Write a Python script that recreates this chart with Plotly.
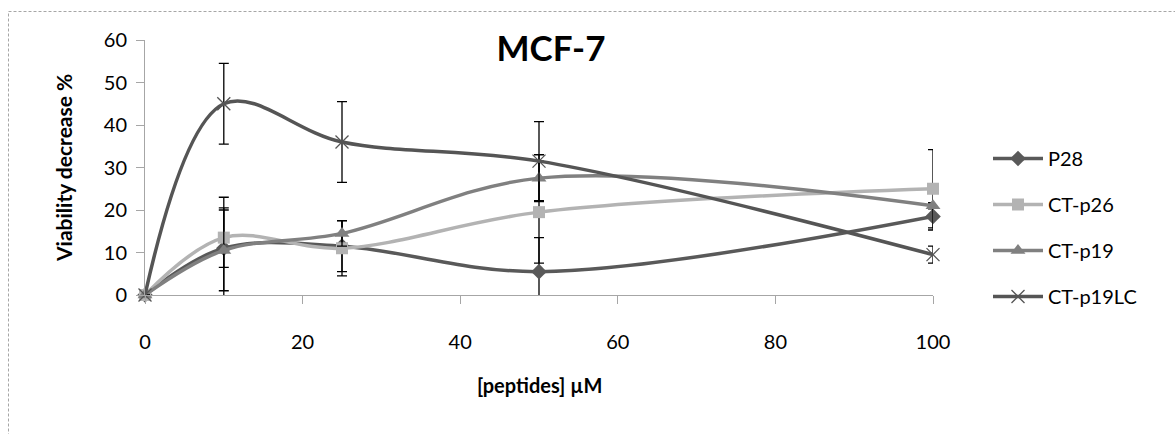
import plotly.graph_objects as go

# ---- data ----
concentrations = [0, 10, 25, 50, 100]
series_names = ["P28", "CT-p26", "CT-p19", "CT-p19LC"]
p28 = [0, 11.0, 11.5, 5.5, 18.5]
p28_err = [0, 12.0, 6.0, 8.0, 3.2]
ct_p26 = [0, 13.5, 11.0, 19.5, 25.0]
ct_p26_err = [0, 7.0, 6.5, 12.0, 9.2]
ct_p19 = [0, 10.5, 14.5, 27.5, 21.0]
ct_p19_err = [0, 9.5, 3.0, 5.5, 0.7]
ct_p19lc = [0, 45.0, 36.0, 31.5, 9.5]
ct_p19lc_err = [0, 9.5, 9.5, 9.3, 2.0]
x_ticks = [0, 20, 40, 60, 80, 100]
y_ticks = [0, 10, 20, 30, 40, 50, 60]

FONT = "Lato"
L, R, T, B = 145, 242, 40, 139
W, H = 1175, 434
pw, ph = W - L - R, H - T - B

styles = [
    dict(color="#595959", symbol="diamond", size=12),
    dict(color="#b3b3b3", symbol="square", size=12),
    dict(color="#808080", symbol="triangle-up", size=13),
    dict(color="#555555", symbol="x-thin", size=13),
]
values = [p28, ct_p26, ct_p19, ct_p19lc]
errors = [p28_err, ct_p26_err, ct_p19_err, ct_p19lc_err]

fig = go.Figure()
for name, y, e, st in zip(series_names, values, errors, styles):
    marker = dict(symbol=st["symbol"], size=st["size"], color=st["color"])
    if st["symbol"] == "x-thin":
        marker["line"] = dict(color=st["color"], width=1.3)
    fig.add_trace(go.Scatter(
        x=concentrations, y=y, name=name, legendgroup=name,
        mode="lines+markers",
        line=dict(color=st["color"], width=3.5, shape="spline", smoothing=1.0),
        marker=marker,
        error_y=dict(type="data", array=e, visible=True, color="black",
                     thickness=1.3, width=5),
        cliponaxis=False,
    ))

def px2paper_x(px):
    return (px - L) / pw

def px2paper_y(py):
    return (H - B - py) / ph

fig.update_layout(
    width=W, height=H,
    margin=dict(l=L, r=R, t=T, b=B, autoexpand=False),
    paper_bgcolor="white", plot_bgcolor="white",
    font=dict(family=FONT, size=20, color="black"),
    title=dict(text="<b>MCF-7</b>", font=dict(family=FONT, size=35, color="black"),
               x=551 / W, xref="container", xanchor="center",
               y=1 - 49 / H, yref="container", yanchor="middle"),
    xaxis=dict(range=[0, 100], tickvals=x_ticks, showgrid=False, zeroline=False,
               showline=True, linecolor="#a6a6a6", linewidth=1,
               ticks="outside", ticklen=8, tickcolor="#a6a6a6",
               ticklabelstandoff=21, tickfont=dict(size=20, family=FONT)),
    yaxis=dict(range=[0, 60], tickvals=y_ticks, showgrid=False, zeroline=False,
               showline=True, linecolor="#a6a6a6", linewidth=1,
               ticks="outside", ticklen=8, tickcolor="#a6a6a6",
               ticklabelstandoff=5, tickfont=dict(size=20, family=FONT)),
    showlegend=True,
    legend=dict(x=px2paper_x(988), y=px2paper_y(139), xanchor="left", yanchor="top",
                font=dict(size=20, family=FONT), tracegroupgap=17,
                itemwidth=50, bgcolor="rgba(0,0,0,0)"),
    annotations=[
        dict(text="<b>Viability decrease %</b>", textangle=-90,
             x=63, y=168, xref="paper", yref="paper", showarrow=False,
             font=dict(size=21, family=FONT)),
        dict(text="<b>[peptides] µM</b>",
             x=539, y=385, xref="paper", yref="paper", showarrow=False,
             font=dict(size=20, family=FONT)),
    ],
    shapes=[dict(type="rect", xref="paper", yref="paper",
                 x0=px2paper_x(8.5), x1=px2paper_x(1300),
                 y0=px2paper_y(11.5), y1=px2paper_y(600),
                 line=dict(color="#a6a6a6", width=1, dash="3px,2px"),
                 fillcolor="rgba(0,0,0,0)", layer="below")],
)

# convert pixel annotation positions to paper coords
for a in fig.layout.annotations:
    a.x = px2paper_x(a.x)
    a.y = px2paper_y(a.y)
    a.xanchor = "center"
    a.yanchor = "middle"

fig.write_html("out.html")
